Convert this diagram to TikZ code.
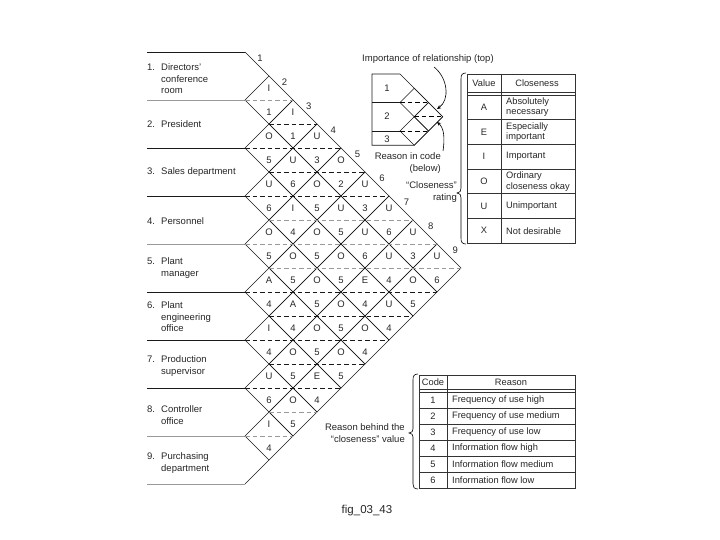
\documentclass[tikz,border=0pt]{standalone}
\usepackage{fontspec}
\setmainfont{Liberation Sans}
\usetikzlibrary{arrows.meta}
\newcommand\lbn[1]{\makebox[14pt][l]{#1}}
\newcommand\lbi{\hspace*{14pt}}
\begin{document}
\begin{tikzpicture}[x=1pt,y=-1pt,
  txt/.style={font=\fontsize{9.5}{11.5}\selectfont, text=black!85, inner sep=0pt},
  cell/.style={txt},
  lab/.style={txt, align=left, anchor=west},
  tab/.style={font=\fontsize{9.3}{10.5}\selectfont, text=black!85, inner sep=0pt},
  gridline/.style={line width=0.65pt, draw=black!90},
  dashline/.style={line width=0.65pt, dash pattern=on 4.5pt off 3pt},
  tline/.style={line width=0.6pt, draw=black!80},
  note/.style={txt, align=right, anchor=east}]
\useasboundingbox (0,0) rectangle (720,540);

% label lines
\foreach \k/\c in {0/black!90,1/black!40,2/black!90,3/black!90,4/black!40,5/black!90,6/black!90,7/black!90,8/black!40,9/black!40}
  \draw[line width=0.65pt, draw=\c] (147,52+48*\k) -- (245,52+48*\k);

% outer end segments
\draw[gridline] (245,52) -- (269,76);
\draw[gridline] (269,460) -- (245,484);

% diamonds
\foreach \i in {1,...,8}{
  \pgfmathtruncatemacro\jst{\i+1}
  \foreach \j in {\jst,...,9}{
    \pgfmathsetmacro\cx{245+24*(\j-\i)}
    \pgfmathsetmacro\cy{52+24*(\i+\j-1)}
    \draw[gridline] (\cx-24,\cy) -- (\cx,\cy-24) -- (\cx+24,\cy) -- (\cx,\cy+24) -- cycle;
  }
}

% dashed centre lines
\foreach \y/\xa/\xb/\c in {100/245/293/black!40,124/269/317/black!90,148/245/341/black!90,172/269/365/black!90,196/245/389/black!90,220/269/413/black!40,244/245/437/black!40,268/269/461/black!40,292/245/437/black!90,316/269/413/black!90,340/245/389/black!90,364/269/365/black!90,388/245/341/black!90,412/269/317/black!40,436/245/293/black!40}
  \draw[dashline, draw=\c] (\xa,\y) -- (\xb,\y);

% cell texts
\foreach \m/\row in {1/{I},2/{1,I},3/{O,1,U},4/{5,U,3,O},5/{U,6,O,2,U},6/{6,I,5,U,3,U},7/{O,4,O,5,U,6,U},8/{5,O,5,O,6,U,3,U},9/{A,5,O,5,E,4,O,6},10/{4,A,5,O,4,U,5},11/{I,4,O,5,O,4},12/{4,O,5,O,4},13/{U,5,E,5},14/{6,O,4},15/{I,5},16/{4}}{
  \foreach \t [count=\n] in \row {
    \node[cell] (c-\m-\n) at (245+24*\n, 64+24*\m) {\t};
  }
}

% column numbers
\foreach \k in {1,...,9}
  \node[txt] (n\k) at (260+24.4*\k-24.4, 58+24*\k-24) {\k};

% row labels
\node[lab] (r1) at (147,79) {\lbn{1.}Directors'\\\lbi conference\\\lbi room};
\node[lab] (r2) at (147,124) {\lbn{2.}President};
\node[lab] (r3) at (147,172) {\lbn{3.}Sales department};
\node[lab] (r4) at (147,221) {\lbn{4.}Personnel};
\node[lab] (r5) at (147,268) {\lbn{5.}Plant\\\lbi manager};
\node[lab] (r6) at (147,317) {\lbn{6.}Plant\\\lbi engineering\\\lbi office};
\node[lab] (r7) at (147,366) {\lbn{7.}Production\\\lbi supervisor};
\node[lab] (r8) at (147,415) {\lbn{8.}Controller\\\lbi office};
\node[lab] (r9) at (147,463) {\lbn{9.}Purchasing\\\lbi department};

% legend mini chart
\draw[gridline] (372,74) -- (400,74) -- (442.75,116.75) -- (414.25,145.25) -- (372,145.25) -- cycle;
\draw[gridline] (372,102.5) -- (400,102.5);
\draw[gridline] (372,131) -- (400,131);
\foreach \cx/\cy in {414.25/102.5,414.25/131,428.5/116.75}{
  \draw[gridline] (\cx-14.25,\cy) -- (\cx,\cy-14.25) -- (\cx+14.25,\cy) -- (\cx,\cy+14.25) -- cycle;
  \draw[dashline] (\cx-14.25,\cy) -- (\cx+14.25,\cy);
}
\node[txt] (m1) at (387,88) {1};
\node[txt] (m2) at (387,116.5) {2};
\node[txt] (m3) at (387,139) {3};

\node[txt, anchor=west] (imp) at (362,59) {Importance of relationship (top)};
\node[note] (rin) at (441,163) {Reason in code\\(below)};
\node[note] (clo) at (457,192) {“Closeness”\\rating};
\node[note] (rbh) at (405,433) {Reason behind the\\“closeness” value};

\coordinate (a1s) at (434,67);
\coordinate (a1e) at (437,109);
\coordinate (a2s) at (443,151);
\coordinate (a2e) at (437,122);
\draw[line width=0.6pt, -{Stealth[length=4pt,width=3.5pt]}] (a1s) .. controls (448,78) and (450,100) .. (a1e);
\draw[line width=0.6pt, -{Stealth[length=4pt,width=3.5pt]}] (a2s) .. controls (445,138) and (444,128) .. (a2e);

% braces
\draw[line width=0.6pt] (466,73) .. controls (462,73) and (461,75) .. (461,79) -- (461,188) .. controls (461,191) and (460,193) .. (457,193) .. controls (460,193) and (461,195) .. (461,198) -- (461,238) .. controls (461,242) and (462,244) .. (466,244);
\draw[line width=0.6pt] (418,374) .. controls (414,374) and (413,376) .. (413,380) -- (413,429) .. controls (413,431) and (412,433) .. (409,433) .. controls (412,433) and (413,435) .. (413,437) -- (413,484) .. controls (413,487) and (414,489) .. (418,489);

% top table
\draw[tline] (467,74) rectangle (575,243);
\draw[tline] (501,74) -- (501,243);
\draw[tline] (467,92) -- (575,92);
\draw[tline] (467,95) -- (575,95);
\foreach \k in {1,...,5}
  \draw[tline] (467,95+24.67*\k) -- (575,95+24.67*\k);
\node[tab] (vh) at (484,83) {Value};
\node[tab] (ch) at (537,83) {Closeness};
\foreach \v/\d [count=\k] in {A/{Absolutely\\necessary},E/{Especially\\important},I/{Important},O/{Ordinary\\closeness okay},U/{Unimportant},X/{Not desirable}}{
  \node[tab] (v\k) at (484,95+24.67*\k-12.33) {\v};
  \node[tab, anchor=west, align=left] (d\k) at (506,95+24.67*\k-12.33) {\d};
}

% bottom table
\draw[tline] (419,375) rectangle (575,488);
\draw[tline] (447,375) -- (447,488);
\draw[tline] (419,389) -- (575,389);
\draw[tline] (419,392) -- (575,392);
\foreach \k in {1,...,5}
  \draw[tline] (419,392+16*\k) -- (575,392+16*\k);
\node[tab] (kh) at (433,382) {Code};
\node[tab] (rh) at (511,382) {Reason};
\foreach \r [count=\k] in {Frequency of use high,Frequency of use medium,Frequency of use low,Information flow high,Information flow medium,Information flow low}{
  \node[tab] (k\k) at (433,392+16*\k-8) {\k};
  \node[tab, anchor=west] (q\k) at (452,392+16*\k-8) {\r};
}

\node[font=\fontsize{11.5}{13}\selectfont, text=black!85, inner sep=0pt] (cap) at (367,511) {fig\_03\_43};
\end{tikzpicture}
\end{document}
